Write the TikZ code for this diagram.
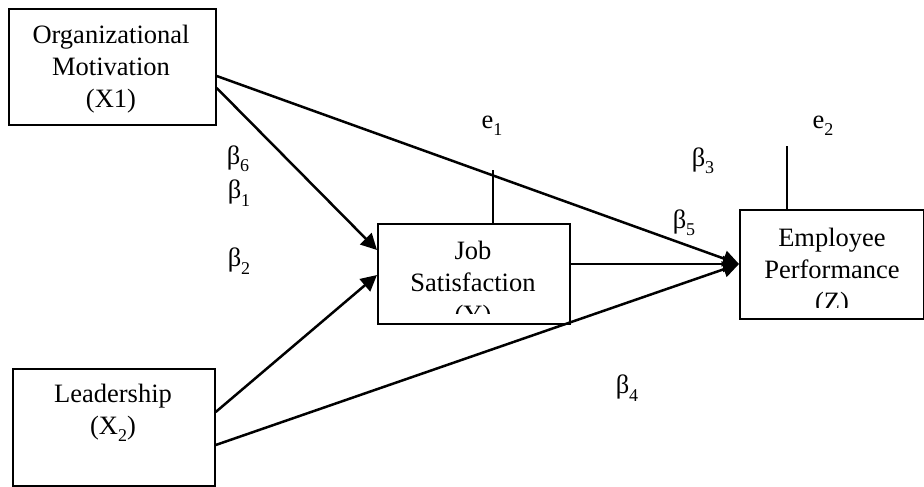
\documentclass[tikz,border=0pt]{standalone}
\usepackage{fontspec}
\setmainfont{Liberation Serif}
\usetikzlibrary{arrows.meta}
\newcommand{\sbs}[1]{\raisebox{-0.28em}{\fontsize{18}{18}\selectfont #1}}
\begin{document}
\begin{tikzpicture}[x=1pt,y=-1pt,
  box/.style={draw,line width=1.7pt,anchor=north west,inner sep=0pt},
  txt/.style={align=center,font=\fontsize{26.5}{32}\selectfont,inner sep=0pt},
  lbl/.style={font=\fontsize{26.5}{32}\selectfont,inner sep=0pt},
  conn/.style={line width=2.5pt},
  arr/.style={conn,-{Triangle[length=16pt,width=16pt]}}]
\useasboundingbox (0,0) rectangle (924,487);
% boxes
\node[box,minimum width=207pt,minimum height=116pt] (x1) at (8,8) {};
\node[box,minimum width=202pt,minimum height=117pt] (l) at (12,368) {};
\node[box,minimum width=192pt,minimum height=100pt] (js) at (377,223) {};
\node[box,minimum width=184pt,minimum height=109pt] (ep) at (739,209) {};
% texts
\node[txt] (x1t) at (111,69) {Organizational\\Motivation\\(X1)};
\node[txt] (lt) at (113,413) {Leadership\\(X\sbs{2})};
\begin{scope}
\clip (377,223) rectangle (569,313);
\node[txt,anchor=north] (jst) at (473,241) {Job\\Satisfaction\\(Y)};
\end{scope}
\begin{scope}
\clip (739,209) rectangle (923,307);
\node[txt,anchor=north] (ept) at (832,228) {Employee\\Performance\\(Z)};
\end{scope}
% connectors
\draw[arr] ([yshift=-68pt]x1.north east) -- ([yshift=-55pt]ep.north west);
\draw[arr] ([yshift=-80pt]x1.north east) -- ([yshift=-27pt]js.north west);
\draw[arr] ([yshift=-44pt]l.north east) -- ([yshift=-52pt]js.north west);
\draw[arr] ([yshift=-77pt]l.north east) -- ([yshift=-55pt]ep.north west);
\draw[arr] ([yshift=-41pt]js.north east) -- ([yshift=-55pt]ep.north west);
% error terms
\coordinate (e1top) at (493,170);
\coordinate (e2top) at (787,146);
\draw[conn] (e1top) -- (e1top |- js.north);
\draw[conn] (e2top) -- (e2top |- ep.north);
\node[lbl] (e1) at (492,126) {e\sbs{1}};
\node[lbl] (e2) at (823,126) {e\sbs{2}};
% betas
\node[lbl] (b6) at (238,159) {β\sbs{6}};
\node[lbl] (b1) at (239,193) {β\sbs{1}};
\node[lbl] (b2) at (239,261) {β\sbs{2}};
\node[lbl] (b3) at (703,161) {β\sbs{3}};
\node[lbl] (b5) at (684,223) {β\sbs{5}};
\node[lbl] (b4) at (627,388) {β\sbs{4}};
\end{tikzpicture}
\end{document}
